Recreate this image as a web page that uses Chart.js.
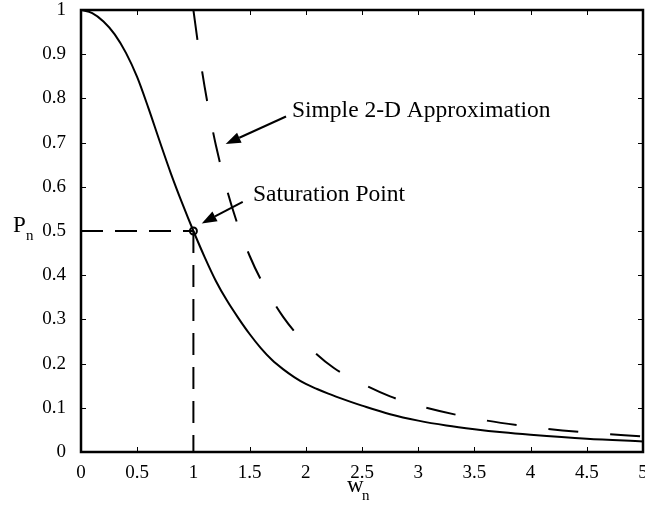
<!DOCTYPE html>
<html>
<head>
<meta charset="utf-8">
<script src="https://cdn.jsdelivr.net/npm/chart.js@4.4.0/dist/chart.umd.min.js"></script>
<style>
  html, body { margin: 0; padding: 0; background: #fff; }
</style>
</head>
<body>
<canvas id="myChart" width="645" height="514"></canvas>
<script>
// normalised frequency w_n and the solid curve P_n
const wSolid = [0, 0.1, 0.2, 0.3, 0.4, 0.5, 0.6, 0.7, 0.8, 0.9, 1.0, 1.1, 1.2, 1.3, 1.4, 1.5, 1.6, 1.7, 1.8, 1.9, 2.0, 2.1, 2.2, 2.3, 2.4, 2.5, 2.75, 3.0, 3.25, 3.5, 3.75, 4.0, 4.5, 5.0]
const pSolid = [1.0, 0.993, 0.974, 0.945, 0.903, 0.848, 0.778, 0.703, 0.630, 0.563, 0.5, 0.441, 0.387, 0.342, 0.303, 0.267, 0.235, 0.208, 0.187, 0.169, 0.154, 0.1425, 0.132, 0.1225, 0.1135, 0.105, 0.0855, 0.071, 0.060, 0.0515, 0.0445, 0.039, 0.030, 0.024]

// simple 2-D approximation (dashed)
const wApprox = [1.0, 1.05, 1.1, 1.15, 1.2, 1.3, 1.4, 1.5, 1.6, 1.8, 2.0, 2.25, 2.5, 2.75, 3.0, 3.5, 4.0, 4.5, 5.0]
const pApprox = [1.0, 0.907, 0.826, 0.756, 0.694, 0.592, 0.51, 0.444, 0.39, 0.305, 0.245, 0.19, 0.155, 0.126, 0.105, 0.076, 0.057, 0.044, 0.035]

// saturation point and its guide lines
const satW = [1]
const satP = [0.5]
const guideHW = [0, 1]
const guideHP = [0.5, 0.5]
const guideVW = [1, 1]
const guideVP = [0.5, 0]

// axis ticks
const xTicks = [0, 0.5, 1, 1.5, 2, 2.5, 3, 3.5, 4, 4.5, 5]
const xTickLabels = ['0', '0.5', '1', '1.5', '2', '2.5', '3', '3.5', '4', '4.5', '5']
const yTicks = [0, 0.1, 0.2, 0.3, 0.4, 0.5, 0.6, 0.7, 0.8, 0.9, 1]
const yTickLabels = ['0', '0.1', '0.2', '0.3', '0.4', '0.5', '0.6', '0.7', '0.8', '0.9', '1']

const toPts = (xs, ys) => xs.map((x, i) => ({ x: x, y: ys[i] }))

const serif = "'Liberation Serif', 'Times New Roman', serif"

// annotations: text anchor and arrow in data units
const notes = [
  { text: 'Simple 2-D Approximation', tx: 1.877, ty: 0.759, from: [1.824, 0.759], to: [1.287, 0.697] },
  { text: 'Saturation Point', tx: 1.53, ty: 0.567, from: [1.439, 0.566], to: [1.074, 0.517] }
]

const framePlugin = {
  id: 'frame',
  afterDraw (chart) {
    const { ctx, chartArea: a, scales: { x, y } } = chart
    ctx.save()
    ctx.strokeStyle = '#000'
    ctx.fillStyle = '#000'

    // inward ticks on all four sides
    ctx.lineWidth = 1
    ctx.beginPath()
    xTicks.forEach(v => {
      const px = Math.round(x.getPixelForValue(v)) + 0.5
      ctx.moveTo(px, a.bottom); ctx.lineTo(px, a.bottom - 5)
      ctx.moveTo(px, a.top); ctx.lineTo(px, a.top + 5)
    })
    yTicks.forEach(v => {
      const py = Math.round(y.getPixelForValue(v)) + 0.5
      ctx.moveTo(a.left, py); ctx.lineTo(a.left + 5, py)
      ctx.moveTo(a.right, py); ctx.lineTo(a.right - 5, py)
    })
    ctx.stroke()

    // box
    ctx.lineWidth = 2.5
    ctx.strokeRect(a.left, a.top, a.right - a.left, a.bottom - a.top)

    // annotations
    ctx.font = '23.5px ' + serif
    ctx.textAlign = 'left'
    ctx.textBaseline = 'alphabetic'
    notes.forEach(n => {
      ctx.fillText(n.text, x.getPixelForValue(n.tx), y.getPixelForValue(n.ty))
      const x0 = x.getPixelForValue(n.from[0]), y0 = y.getPixelForValue(n.from[1])
      const x1 = x.getPixelForValue(n.to[0]), y1 = y.getPixelForValue(n.to[1])
      const ang = Math.atan2(y1 - y0, x1 - x0)
      const hl = 15, hw = 5.5
      const bx = x1 - hl * Math.cos(ang), by = y1 - hl * Math.sin(ang)
      ctx.lineWidth = 2
      ctx.beginPath()
      ctx.moveTo(x0, y0); ctx.lineTo(bx, by)
      ctx.stroke()
      ctx.beginPath()
      ctx.moveTo(x1, y1)
      ctx.lineTo(bx + hw * Math.sin(ang), by - hw * Math.cos(ang))
      ctx.lineTo(bx - hw * Math.sin(ang), by + hw * Math.cos(ang))
      ctx.closePath()
      ctx.fill()
    })

    // axis titles with subscripts
    const midY = (a.top + a.bottom) / 2
    ctx.font = '23px ' + serif
    ctx.fillText('P', 13, midY + 1)
    ctx.font = '15px ' + serif
    ctx.fillText('n', 26, midY + 9)
    const midX = (a.left + a.right) / 2
    ctx.font = '23px ' + serif
    ctx.fillText('w', midX - 15, 492)
    ctx.font = '15px ' + serif
    ctx.fillText('n', midX, 500)
    ctx.restore()
  }
}

const ctx = document.getElementById('myChart')
const myChart = new Chart(ctx, {
  type: 'line',
  data: {
    datasets: [
      {
        data: toPts(guideHW, guideHP),
        borderColor: '#000',
        borderWidth: 2,
        borderDash: [22, 12],
        pointRadius: 0
      },
      {
        data: toPts(guideVW, guideVP),
        borderColor: '#000',
        borderWidth: 2,
        borderDash: [22, 12],
        pointRadius: 0
      },
      {
        data: toPts(wSolid, pSolid),
        borderColor: '#000',
        borderWidth: 2,
        cubicInterpolationMode: 'monotone',
        pointRadius: 0
      },
      {
        data: toPts(wApprox, pApprox),
        borderColor: '#000',
        borderWidth: 2,
        borderDash: [30, 32],
        cubicInterpolationMode: 'monotone',
        pointRadius: 0
      },
      {
        data: toPts(satW, satP),
        showLine: false,
        pointRadius: 3.5,
        pointBorderWidth: 2,
        pointBorderColor: '#000',
        pointBackgroundColor: '#fff'
      }
    ]
  },
  options: {
    responsive: false,
    animation: false,
    layout: { autoPadding: false, padding: { top: 10, right: 2, left: 0, bottom: 0 } },
    plugins: {
      legend: { display: false },
      tooltip: { enabled: false }
    },
    scales: {
      x: {
        type: 'linear',
        min: 0,
        max: 5,
        grid: { display: false },
        border: { display: false },
        afterBuildTicks: s => { s.ticks = xTicks.map(v => ({ value: v })) },
        afterFit: s => { s.height = 62; s.paddingLeft = 0; s.paddingRight = 0 },
        ticks: {
          color: '#000',
          maxRotation: 0,
          autoSkip: false,
          padding: 2,
          font: { family: serif, size: 19 },
          callback: (v, i) => xTickLabels[i]
        }
      },
      y: {
        type: 'linear',
        min: 0,
        max: 1,
        grid: { display: false },
        border: { display: false },
        afterBuildTicks: s => { s.ticks = yTicks.map(v => ({ value: v })) },
        afterFit: s => { s.width = 81; s.paddingTop = 0; s.paddingBottom = 0 },
        ticks: {
          color: '#000',
          autoSkip: false,
          padding: 7,
          font: { family: serif, size: 19 },
          callback: (v, i) => yTickLabels[i]
        }
      }
    }
  },
  plugins: [framePlugin]
})
</script>
</body>
</html>
